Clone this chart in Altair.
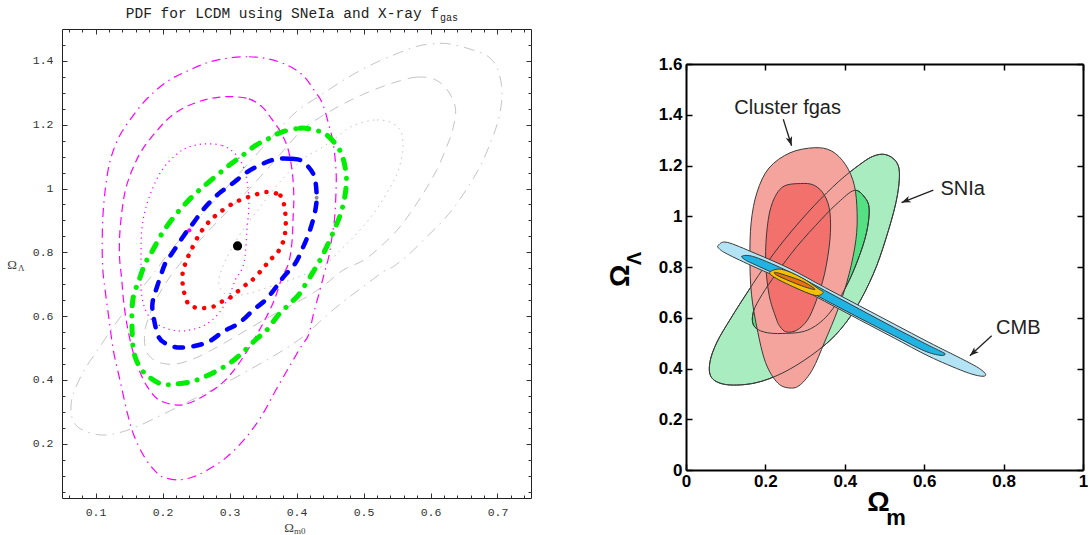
import math
import altair as alt
import pandas as pd

# ---------------- left panel data (Omega_m0, Omega_Lambda) ----------------
JOINT_1SIG = [(0.356, 0.989), (0.376, 0.978), (0.382, 0.942), (0.384, 0.890), (0.381, 0.840), (0.372, 0.800),
              (0.360, 0.775), (0.351, 0.752), (0.334, 0.713), (0.321, 0.693), (0.301, 0.658), (0.289, 0.646),
              (0.276, 0.630), (0.261, 0.625), (0.249, 0.627), (0.238, 0.640), (0.231, 0.687), (0.230, 0.734),
              (0.235, 0.770), (0.2415, 0.801), (0.254, 0.853), (0.269, 0.895), (0.284, 0.923), (0.304, 0.952),
              (0.321, 0.968), (0.339, 0.981)]
JOINT_2SIG = [(0.371, 1.093), (0.393, 1.093), (0.408, 1.086), (0.425, 1.046), (0.430, 0.984), (0.428, 0.931),
              (0.420, 0.869), (0.409, 0.812), (0.398, 0.765), (0.381, 0.724), (0.368, 0.687), (0.354, 0.651),
              (0.336, 0.620), (0.314, 0.578), (0.291, 0.552), (0.269, 0.520), (0.244, 0.505), (0.222, 0.502),
              (0.204, 0.515), (0.194, 0.536), (0.187, 0.593), (0.185, 0.640), (0.192, 0.693), (0.204, 0.765),
              (0.214, 0.796), (0.232, 0.853), (0.247, 0.895), (0.264, 0.942), (0.284, 0.984), (0.304, 1.015),
              (0.326, 1.051), (0.349, 1.077)]
JOINT_3SIG = [(0.378, 1.177), (0.405, 1.189), (0.423, 1.185), (0.443, 1.171), (0.460, 1.135), (0.469, 1.098),
              (0.474, 1.046), (0.474, 1.004), (0.470, 0.952), (0.464, 0.910), (0.455, 0.864), (0.445, 0.817),
              (0.435, 0.775), (0.425, 0.739), (0.413, 0.698), (0.403, 0.666), (0.388, 0.635), (0.373, 0.604),
              (0.356, 0.557), (0.339, 0.526), (0.321, 0.489), (0.304, 0.458), (0.284, 0.432), (0.264, 0.411),
              (0.244, 0.395), (0.219, 0.387), (0.199, 0.387), (0.182, 0.406), (0.167, 0.437), (0.157, 0.489),
              (0.1545, 0.562), (0.1545, 0.619), (0.157, 0.666), (0.165, 0.713), (0.174, 0.765), (0.184, 0.801),
              (0.199, 0.858), (0.217, 0.911), (0.234, 0.952), (0.249, 0.984), (0.269, 1.020), (0.299, 1.072),
              (0.319, 1.103), (0.339, 1.135), (0.358, 1.156)]
FGAS_1SIG = [(0.264, 1.140), (0.289, 1.135), (0.306, 1.114), (0.319, 1.077), (0.326, 1.025), (0.329, 0.952),
             (0.326, 0.869), (0.323, 0.785), (0.318, 0.745), (0.309, 0.715), (0.299, 0.661), (0.284, 0.609),
             (0.264, 0.573), (0.242, 0.557), (0.222, 0.554), (0.199, 0.567), (0.182, 0.593), (0.172, 0.635),
             (0.168, 0.687), (0.168, 0.744), (0.168, 0.806), (0.169, 0.869), (0.174, 0.931), (0.184, 0.994),
             (0.199, 1.057), (0.219, 1.104), (0.239, 1.130)]
FGAS_2SIG = [(0.299, 1.288), (0.329, 1.281), (0.349, 1.255), (0.363, 1.218), (0.378, 1.171), (0.388, 1.119),
             (0.394, 1.046), (0.396, 0.973), (0.395, 0.911), (0.393, 0.827), (0.388, 0.765), (0.378, 0.719),
             (0.366, 0.646), (0.349, 0.573), (0.329, 0.500), (0.309, 0.437), (0.289, 0.390), (0.264, 0.353),
             (0.239, 0.327), (0.219, 0.322), (0.194, 0.338), (0.177, 0.380), (0.164, 0.437), (0.1545, 0.500),
             (0.147, 0.573), (0.142, 0.646), (0.139, 0.719), (0.136, 0.780), (0.136, 0.848), (0.139, 0.921),
             (0.1445, 0.994), (0.1545, 1.057), (0.169, 1.119), (0.192, 1.182), (0.214, 1.229), (0.239, 1.260),
             (0.269, 1.281)]
FGAS_3SIG = [(0.299, 1.409), (0.329, 1.413), (0.359, 1.406), (0.388, 1.385), (0.410, 1.354), (0.425, 1.312),
             (0.438, 1.270), (0.448, 1.202), (0.455, 1.140), (0.459, 1.057), (0.459, 0.994), (0.457, 0.910),
             (0.453, 0.848), (0.448, 0.785), (0.441, 0.730), (0.433, 0.666), (0.425, 0.604), (0.418, 0.541),
             (0.407, 0.505), (0.388, 0.437), (0.368, 0.364), (0.349, 0.291), (0.324, 0.218), (0.294, 0.155),
             (0.264, 0.114), (0.244, 0.095), (0.224, 0.087), (0.204, 0.093), (0.192, 0.108), (0.174, 0.155),
             (0.157, 0.228), (0.147, 0.301), (0.137, 0.395), (0.127, 0.489), (0.120, 0.593), (0.114, 0.687),
             (0.111, 0.744), (0.110, 0.817), (0.111, 0.911), (0.115, 1.004), (0.122, 1.088), (0.135, 1.161),
             (0.1545, 1.224), (0.179, 1.286), (0.209, 1.338), (0.239, 1.370), (0.269, 1.396)]
SNE_1SIG = [(0.500, 1.208), (0.520, 1.215), (0.540, 1.208), (0.555, 1.182), (0.559, 1.140), (0.557, 1.098),
            (0.550, 1.046), (0.537, 0.994), (0.522, 0.942), (0.505, 0.895), (0.485, 0.848), (0.465, 0.806),
            (0.445, 0.765), (0.420, 0.738), (0.390, 0.713), (0.360, 0.692), (0.330, 0.672), (0.305, 0.664),
            (0.290, 0.675), (0.284, 0.705), (0.288, 0.745), (0.300, 0.800), (0.320, 0.870), (0.345, 0.940),
            (0.375, 1.020), (0.410, 1.093), (0.435, 1.124), (0.460, 1.161), (0.480, 1.192)]
SNE_2SIG = [(0.555, 1.338), (0.579, 1.349), (0.604, 1.344), (0.624, 1.312), (0.637, 1.255), (0.634, 1.192),
            (0.624, 1.130), (0.609, 1.057), (0.589, 0.984), (0.569, 0.921), (0.550, 0.869), (0.525, 0.817),
            (0.500, 0.775), (0.470, 0.745), (0.445, 0.703), (0.420, 0.666), (0.390, 0.632), (0.360, 0.598),
            (0.330, 0.562), (0.300, 0.525), (0.270, 0.490), (0.245, 0.465), (0.220, 0.450), (0.200, 0.452),
            (0.185, 0.466), (0.176, 0.490), (0.173, 0.530), (0.176, 0.575), (0.190, 0.650), (0.210, 0.720),
            (0.240, 0.800), (0.270, 0.870), (0.300, 0.935), (0.330, 1.000), (0.360, 1.070), (0.385, 1.130),
            (0.410, 1.187), (0.435, 1.223), (0.465, 1.260), (0.495, 1.291), (0.525, 1.317)]
SNE_3SIG = [(0.584, 1.448), (0.614, 1.455), (0.634, 1.451), (0.659, 1.437), (0.684, 1.417), (0.699, 1.380),
            (0.706, 1.323), (0.706, 1.271), (0.701, 1.213), (0.691, 1.151), (0.676, 1.077), (0.659, 1.015),
            (0.639, 0.952), (0.619, 0.900), (0.594, 0.848), (0.569, 0.796), (0.545, 0.756), (0.530, 0.740),
            (0.500, 0.693), (0.470, 0.646), (0.440, 0.593), (0.410, 0.536), (0.373, 0.484), (0.334, 0.437),
            (0.289, 0.385), (0.249, 0.343), (0.214, 0.306), (0.179, 0.270), (0.150, 0.244), (0.125, 0.230),
            (0.105, 0.228), (0.085, 0.239), (0.070, 0.260), (0.064, 0.291), (0.064, 0.332), (0.070, 0.374),
            (0.085, 0.437), (0.105, 0.499), (0.125, 0.562), (0.147, 0.625), (0.169, 0.687), (0.189, 0.740),
            (0.210, 0.800), (0.235, 0.862), (0.260, 0.922), (0.290, 0.990), (0.320, 1.060), (0.350, 1.130),
            (0.380, 1.200), (0.405, 1.250), (0.435, 1.291), (0.465, 1.333), (0.495, 1.370), (0.525, 1.401),
            (0.555, 1.427)]
BEST_FIT = [(0.312, 0.820)]
SNE_PEAK = [(0.430, 0.971)]
FGAS_PEAK = [(0.240, 0.869)]

XMAJ_L = [0.1, 0.2, 0.3, 0.4, 0.5, 0.6, 0.7]
XMIN_L = [0.06, 0.08, 0.12, 0.14, 0.16, 0.18, 0.22, 0.24, 0.26, 0.28, 0.32, 0.34, 0.36, 0.38,
          0.42, 0.44, 0.46, 0.48, 0.52, 0.54, 0.56, 0.58, 0.62, 0.64, 0.66, 0.68, 0.72, 0.74]
YMAJ_L = [0.2, 0.4, 0.6, 0.8, 1.0, 1.2, 1.4]
YMIN_L = [0.05, 0.1, 0.15, 0.25, 0.3, 0.35, 0.45, 0.5, 0.55, 0.65, 0.7, 0.75, 0.85, 0.9, 0.95,
          1.05, 1.1, 1.15, 1.25, 1.3, 1.35, 1.45]
TITLE_MAIN = "PDF for LCDM using SNeIa and X-ray f"
TITLE_SUB = "gas"

# ---------------- right panel data (Omega_m, Omega_Lambda) ----------------
SN_2SIG = [(0.5026, 1.243), (0.529, 1.216), (0.5377, 1.163), (0.529, 1.055), (0.5026, 0.907), (0.472, 0.773),
           (0.428, 0.638), (0.376, 0.531), (0.314, 0.450), (0.244, 0.383), (0.174, 0.343), (0.104, 0.336),
           (0.065, 0.363), (0.060, 0.423), (0.078, 0.504), (0.113, 0.598), (0.157, 0.706), (0.209, 0.827),
           (0.262, 0.934), (0.323, 1.042), (0.384, 1.136), (0.437, 1.203), (0.472, 1.237)]
SN_1SIG = [(0.424, 1.102), (0.450, 1.075), (0.4615, 1.028), (0.4545, 0.934), (0.4326, 0.827), (0.402, 0.719),
           (0.358, 0.612), (0.306, 0.551), (0.244, 0.538), (0.196, 0.544), (0.170, 0.571), (0.170, 0.625),
           (0.192, 0.692), (0.227, 0.773), (0.279, 0.880), (0.341, 0.988), (0.384, 1.055)]
CL_2SIG = [(0.323, 1.270), (0.367, 1.257), (0.402, 1.203), (0.424, 1.122), (0.431, 1.015), (0.428, 0.907),
           (0.411, 0.773), (0.384, 0.638), (0.349, 0.504), (0.319, 0.397), (0.288, 0.336), (0.262, 0.323),
           (0.231, 0.343), (0.2005, 0.423), (0.179, 0.558), (0.165, 0.692), (0.161, 0.827), (0.164, 0.974),
           (0.179, 1.095), (0.209, 1.190), (0.262, 1.250)]
CL_1SIG = [(0.288, 1.129), (0.323, 1.122), (0.349, 1.082), (0.3625, 1.015), (0.3625, 0.907), (0.349, 0.773),
           (0.3275, 0.665), (0.306, 0.591), (0.279, 0.551), (0.253, 0.544), (0.237, 0.565), (0.227, 0.598),
           (0.209, 0.692), (0.2005, 0.827), (0.205, 0.961), (0.218, 1.055), (0.244, 1.116)]
CMB_2SIG = [(0.0823, 0.887), (0.104, 0.897), (0.174, 0.854), (0.262, 0.793), (0.349, 0.720), (0.437, 0.647),
            (0.5245, 0.575), (0.612, 0.503), (0.6996, 0.434), (0.739, 0.400), (0.755, 0.376), (0.742, 0.370),
            (0.6996, 0.389), (0.612, 0.448), (0.5245, 0.520), (0.437, 0.592), (0.349, 0.665), (0.262, 0.738),
            (0.174, 0.799), (0.104, 0.851), (0.0823, 0.874)]
CMB_1SIG = [(0.141, 0.843), (0.174, 0.839), (0.262, 0.780), (0.349, 0.708), (0.437, 0.634), (0.5245, 0.561),
            (0.600, 0.500), (0.640, 0.469), (0.653, 0.457), (0.640, 0.452), (0.600, 0.470), (0.5245, 0.529),
            (0.437, 0.599), (0.349, 0.671), (0.262, 0.745), (0.174, 0.809), (0.150, 0.827)]
ALL_2SIG = [(0.2115, 0.780), (0.2408, 0.791), (0.2912, 0.758), (0.333, 0.715), (0.3457, 0.699), (0.325, 0.688),
            (0.2744, 0.719), (0.224, 0.758)]
ALL_1SIG = [(0.228, 0.778), (0.2912, 0.745), (0.325, 0.712), (0.2912, 0.726), (0.232, 0.765)]
ARROW_CL = [(0.245, 1.382), (0.266, 1.278)]
ARROW_SN = [(0.623, 1.103), (0.543, 1.054)]
ARROW_CMB = [(0.770, 0.529), (0.715, 0.450)]
LABEL_TEXT = ["Cluster fgas", "SNIa", "CMB"]
LABEL_X = [0.256, 0.697, 0.837]
LABEL_Y = [1.426, 1.107, 0.558]
XMAJ_R = [0, 0.2, 0.4, 0.6, 0.8, 1.0]
YMAJ_R = [0, 0.2, 0.4, 0.6, 0.8, 1.0, 1.2, 1.4, 1.6]

# ---------------- helpers ----------------
W_L, H_L = 469, 469
W_R, H_R = 397, 441      # right view height; its frame starts R_TOP px below the view top
R_TOP = 35
FRAME_R = H_R - R_TOP


def pts(points):
    df = pd.DataFrame(points, columns=["x", "y"])
    df["i"] = range(len(df))
    return df


def txt(s, x, y, **kw):
    return alt.Chart(pd.DataFrame({"t": [s]})).mark_text(**kw).encode(
        x=alt.value(x), y=alt.value(y), text="t:N")


XS_L = alt.Scale(domain=[0.05, 0.75], nice=False, zero=False)
YS_L = alt.Scale(domain=[0.03, 1.5], nice=False, zero=False)
XS_R = alt.Scale(domain=[0, 1], nice=False, zero=False)
YS_R = alt.Scale(domain=[0, 1.6], nice=False, zero=False, range=[H_R, R_TOP])


def encL(ax=None, ay=None):
    return dict(x=alt.X("x:Q", scale=XS_L, axis=ax, title=None),
                y=alt.Y("y:Q", scale=YS_L, axis=ay, title=None))


def encR(ax=None, ay=None):
    return dict(x=alt.X("x:Q", scale=XS_R, axis=ax, title=None),
                y=alt.Y("y:Q", scale=YS_R, axis=ay, title=None))


# ---------------- left panel ----------------
STYLE_L = [
    (SNE_3SIG, "#c4c4c4", 1.0, [11, 6, 1.5, 6], "butt"),
    (SNE_2SIG, "#c4c4c4", 1.0, [10, 7], "butt"),
    (SNE_1SIG, "#c4c4c4", 1.0, [1.5, 4.5], "butt"),
    (FGAS_3SIG, "#ff00ff", 1.2, [9, 5, 1.5, 5], "butt"),
    (FGAS_2SIG, "#ff00ff", 1.2, [8, 5], "butt"),
    (FGAS_1SIG, "#ff00ff", 1.2, [1.2, 4], "butt"),
    (JOINT_3SIG, "#00ee00", 5.0, [9, 10, 0.1, 10], "round"),
    (JOINT_2SIG, "#0000ff", 4.5, [8.5, 10.5], "round"),
    (JOINT_1SIG, "#ff0000", 4.5, [0.1, 9.5], "round"),
]
left_layers = []
for p, col, wdt, dash, cap in STYLE_L:
    left_layers.append(
        alt.Chart(pts(p)).mark_line(interpolate="cardinal-closed", color=col, strokeWidth=wdt,
                                    strokeDash=dash, strokeCap=cap).encode(order="i:Q", **encL()))
left_layers.append(alt.Chart(pts(SNE_PEAK)).mark_circle(color="#909090", size=16, opacity=1).encode(**encL()))
left_layers.append(alt.Chart(pts(FGAS_PEAK)).mark_circle(color="#ff00ff", size=18, opacity=1).encode(**encL()))
left_layers.append(alt.Chart(pts(BEST_FIT)).mark_circle(color="black", size=85, opacity=1).encode(**encL()))

LBL_L = dict(labelFont="Liberation Mono", labelFontSize=11.5, labelColor="#333333", format=".1~f",
             grid=False, title=None)
TK_L = dict(labels=False, grid=False, title=None, tickColor="#333333", tickWidth=1,
            domainColor="#222222", domainWidth=1)
AXES_L = [
    (alt.Axis(orient="bottom", values=XMAJ_L, ticks=False, tickSize=0, domain=False, labelPadding=8,
              labelFlush=False, **LBL_L),
     alt.Axis(orient="left", values=YMAJ_L, ticks=False, tickSize=0, domain=False, labelPadding=9, **LBL_L)),
    (alt.Axis(orient="top", offset=-H_L, values=XMAJ_L, tickSize=5, domain=True, **TK_L),
     alt.Axis(orient="right", offset=-W_L, values=YMAJ_L, tickSize=5, domain=True, **TK_L)),
    (alt.Axis(orient="top", offset=-H_L, values=XMIN_L, tickSize=3, domain=False, **TK_L),
     alt.Axis(orient="right", offset=-W_L, values=YMIN_L, tickSize=3, domain=False, **TK_L)),
    (alt.Axis(orient="bottom", offset=-H_L, values=XMAJ_L, tickSize=5, domain=True, **TK_L),
     alt.Axis(orient="left", offset=-W_L, values=YMAJ_L, tickSize=5, domain=True, **TK_L)),
    (alt.Axis(orient="bottom", offset=-H_L, values=XMIN_L, tickSize=3, domain=False, **TK_L),
     alt.Axis(orient="left", offset=-W_L, values=YMIN_L, tickSize=3, domain=False, **TK_L)),
]
for ax, ay in AXES_L:
    left_layers.append(alt.Chart(pts(JOINT_1SIG)).mark_point(opacity=0).encode(**encL(ax, ay)))

left_layers += [
    txt(TITLE_MAIN, 377, -15, align="right", baseline="middle", font="Liberation Mono", fontSize=14.5,
        color="#222222"),
    txt(TITLE_SUB, 378, -11, align="left", baseline="middle", font="Liberation Mono", fontSize=10,
        color="#222222"),
    txt("Ω", -50, 236, align="center", baseline="middle", font="Liberation Serif", fontSize=13, color="#444444"),
    txt("Λ", -44, 239, align="left", baseline="middle", font="Liberation Serif", fontSize=9, color="#444444"),
    txt("Ω", 227, 499, align="center", baseline="middle", font="Liberation Serif", fontSize=13, color="#444444"),
    txt("m0", 232, 502, align="left", baseline="middle", font="Liberation Serif", fontSize=9, color="#444444"),
]
left = alt.layer(*left_layers).resolve_axis(x="independent", y="independent").properties(width=W_L, height=H_L)

# ---------------- right panel ----------------
OUTLINE = "#3a3a3a"
right_layers = []


def shape(p, fill=None):
    kw = dict(interpolate="cardinal-closed", stroke=OUTLINE, strokeWidth=1)
    if fill:
        kw["fill"] = fill
    return alt.Chart(pts(p)).mark_line(**kw).encode(order="i:Q", **encR())


right_layers += [
    shape(SN_2SIG, "#a9ecc0"),
    shape(SN_1SIG, "#55e083"),
    shape(CL_2SIG, "#f5a39d"),
    shape(CL_1SIG, "#f2716c"),
    shape(SN_2SIG),
    shape(SN_1SIG),
    shape(CMB_2SIG, "#b3e4f5"),
    shape(CMB_1SIG, "#1fb4e4"),
    shape(ALL_2SIG, "#f5c000"),
    shape(ALL_1SIG, "#e8720f"),
]

HEAD = "M0,0 L0.5,1.35 L0,1.0 L-0.5,1.35 Z"
for arr in [ARROW_CL, ARROW_SN, ARROW_CMB]:
    (x0, y0), (x1, y1) = arr
    dxp = (x1 - x0) * W_R / 1.0
    dyp = (y1 - y0) * FRAME_R / 1.6
    ang = math.degrees(math.atan2(dxp, dyp)) % 360
    right_layers.append(alt.Chart(pts(arr)).mark_line(color="#222222", strokeWidth=1.3).encode(order="i:Q", **encR()))
    right_layers.append(alt.Chart(pts(arr[1:])).mark_point(shape=HEAD, size=180, filled=True, color="#222222",
                                                           opacity=1, angle=ang).encode(**encR()))

lab_df = pd.DataFrame({"x": LABEL_X, "y": LABEL_Y, "t": LABEL_TEXT})
right_layers.append(alt.Chart(lab_df).mark_text(font="Liberation Sans", fontSize=20, color="#222222").encode(
    text="t:N", **encR()))

LBL_R = dict(labelFont="Liberation Sans", labelFontSize=17, labelFontWeight="bold", labelColor="black",
             format=".1~f", grid=False, title=None)
TK_R = dict(labels=False, grid=False, title=None, tickColor="black", tickWidth=1.5,
            domainColor="black", domainWidth=2)
AXES_R = [
    (alt.Axis(orient="bottom", values=XMAJ_R, ticks=False, tickSize=0, domain=False, labelPadding=3,
              labelFlush=False, labelOverlap=False, **LBL_R),
     alt.Axis(orient="left", values=YMAJ_R, ticks=False, tickSize=0, domain=False, labelPadding=4,
              labelOverlap=False, **LBL_R)),
    (alt.Axis(orient="top", offset=-H_R, values=XMAJ_R, tickSize=6, domain=True, **TK_R),
     alt.Axis(orient="right", offset=-W_R, values=YMAJ_R, tickSize=6, domain=True, **TK_R)),
    (alt.Axis(orient="bottom", offset=-FRAME_R, values=XMAJ_R, tickSize=6, domain=True, **TK_R),
     alt.Axis(orient="left", offset=-W_R, values=YMAJ_R, tickSize=6, domain=True, **TK_R)),
]
for ax, ay in AXES_R:
    right_layers.append(alt.Chart(pts(CL_2SIG)).mark_point(opacity=0).encode(**encR(ax, ay)))

right_layers += [
    txt("Ω", -64.6, 211.7 + R_TOP, align="center", baseline="middle", angle=270, font="Liberation Sans",
        fontSize=28, fontWeight="bold", color="black"),
    txt("Λ", -50.7, 194.7 + R_TOP, align="center", baseline="middle", angle=270, font="Liberation Sans",
        fontSize=20, fontWeight="bold", color="black"),
    txt("Ω", 192.5, 438.7 + R_TOP, align="center", baseline="middle", font="Liberation Sans", fontSize=28,
        fontWeight="bold", color="black"),
    txt("m", 210, 454 + R_TOP, align="center", baseline="middle", font="Liberation Sans", fontSize=22,
        fontWeight="bold", color="black"),
]
right = alt.layer(*right_layers).resolve_axis(x="independent", y="independent").properties(width=W_R, height=H_R)

chart = alt.hconcat(left, right, spacing=75, padding={"left": 7, "top": 6, "right": 0, "bottom": 0}
                    ).configure_view(stroke=None)
chart.save("out.html", embed_options={"renderer": "svg", "actions": False})
